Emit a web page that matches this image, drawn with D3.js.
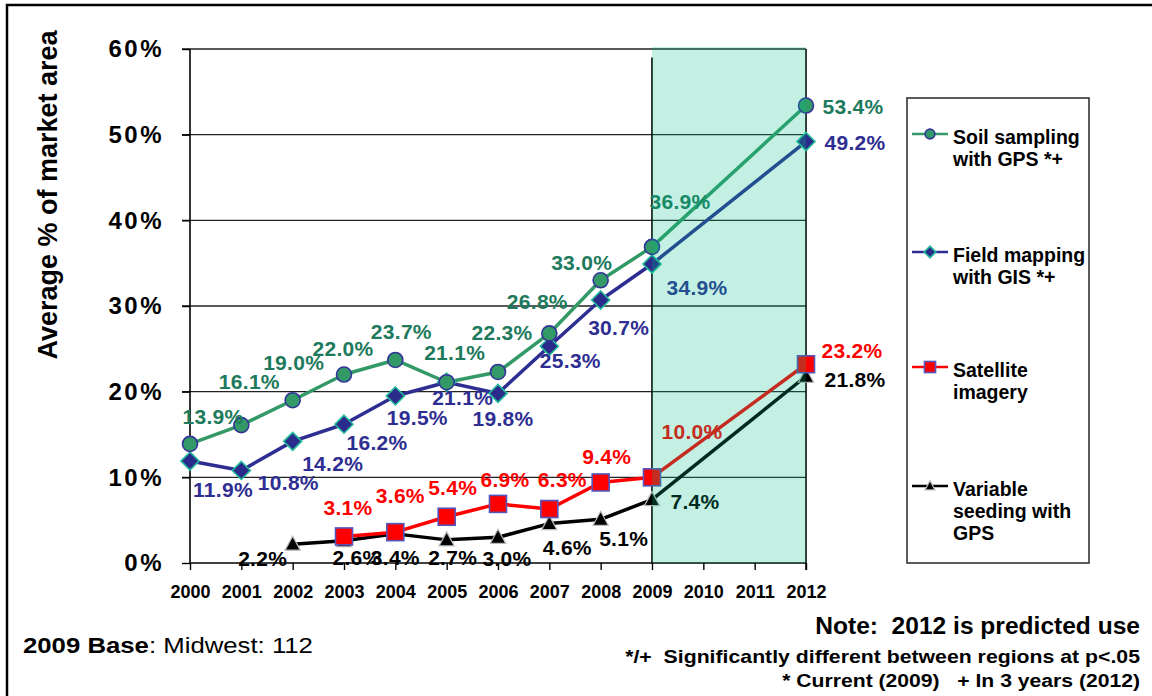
<!DOCTYPE html>
<html>
<head>
<meta charset="utf-8">
<script src="https://cdn.jsdelivr.net/npm/d3@7"></script>
<style>
  html, body { margin: 0; padding: 0; background: #fff; }
  svg { display: block; font-family: "Liberation Sans", Arial, sans-serif; }
</style>
</head>
<body>
<svg id="chart" width="1152" height="696"></svg>
<script>
// ---------------- data ----------------
const years = [2000, 2001, 2002, 2003, 2004, 2005, 2006, 2007, 2008, 2009, 2010, 2011, 2012];
const yTicks = [0, 10, 20, 30, 40, 50, 60];

const soilYears  = [2000, 2001, 2002, 2003, 2004, 2005, 2006, 2007, 2008, 2009, 2012];
const soilValues = [13.9, 16.1, 19.0, 22.0, 23.7, 21.1, 22.3, 26.8, 33.0, 36.9, 53.4];

const fieldYears  = [2000, 2001, 2002, 2003, 2004, 2005, 2006, 2007, 2008, 2009, 2012];
const fieldValues = [11.9, 10.8, 14.2, 16.2, 19.5, 21.1, 19.8, 25.3, 30.7, 34.9, 49.2];

const satYears  = [2003, 2004, 2005, 2006, 2007, 2008, 2009, 2012];
const satValues = [3.1, 3.6, 5.4, 6.9, 6.3, 9.4, 10.0, 23.2];

const seedYears  = [2002, 2003, 2004, 2005, 2006, 2007, 2008, 2009, 2012];
const seedValues = [2.2, 2.6, 3.4, 2.7, 3.0, 4.6, 5.1, 7.4, 21.8];

const seriesNames = [["Soil sampling", "with GPS *+"], ["Field mapping", "with GIS *+"], ["Satellite", "imagery"], ["Variable", "seeding with", "GPS"]];

// label placement (pixel offsets from the point), layout only
const soilLabelOff  = [[23,-27],[8,-43],[1,-38],[-1,-26],[6,-28],[8,-30],[4,-39],[-12,-32],[-19,-18],[28,-45],[47,1]];
const fieldLabelOff = [[33,29],[47,12],[40,22],[33,18],[22,22],[16,15],[5,25],[21,14],[18,28],[45,24],[49,1]];
const satLabelOff   = [[4,-29],[5,-37],[6,-29],[7,-24],[13,-29],[6,-26],[40,-46],[46,-14]];
const seedLabelOff  = [[-30,14],[13,17],[0,24],[6,18],[9,21],[18,24],[23,19],[43,2],[49,3]];

// ---------------- layout ----------------
const svg = d3.select("#chart");
const x = d3.scaleLinear().domain([2000, 2012]).range([190, 806]);
const y = d3.scaleLinear().domain([0, 60]).range([563, 49]);

// helper: stretch a text horizontally to a target width, keeping its anchor
function fitWidth(sel, target) {
  const node = sel.node();
  const w = node.getComputedTextLength();
  const ax = +sel.attr("x"), ay = +sel.attr("y");
  const anchor = sel.attr("text-anchor") || "start";
  const sx = target / w;
  sel.attr("x", 0).attr("y", 0).attr("transform", `translate(${ax},${ay}) scale(${sx},1)`);
  sel.selectAll("tspan").each(function () { if (this.hasAttribute("x")) this.setAttribute("x", 0); });
}

// outer frame
svg.append("rect").attr("x", 7).attr("y", 5).attr("width", 1160).attr("height", 710)
  .attr("fill", "none").attr("stroke", "#000").attr("stroke-width", 2.5);

// gridlines
svg.append("g").selectAll("line").data(yTicks.filter(d => d > 0)).join("line")
  .attr("x1", 182).attr("x2", x(2012)).attr("y1", d => y(d)).attr("y2", d => y(d))
  .attr("stroke", "#222").attr("stroke-width", 1.4);

// y axis
const yAxis = d3.axisLeft(y).tickValues(yTicks).tickFormat(d => d + "%").tickSize(8).tickPadding(18);
const gy = svg.append("g").attr("transform", `translate(${x(2000)},0)`).call(yAxis);
gy.select(".domain").attr("stroke", "#000").attr("stroke-width", 1.6).attr("d", `M0,${y(60)}V${y(0)}`);
gy.selectAll(".tick line").attr("stroke", "#000").attr("stroke-width", 1.4);
gy.selectAll(".tick text").attr("font-size", 24).attr("font-weight", "bold").attr("fill", "#000")
  .attr("letter-spacing", 2.5).attr("font-family", "Liberation Sans, Arial, sans-serif");

// x axis
const xAxis = d3.axisBottom(x).tickValues(years).tickFormat(d3.format("d")).tickSize(7).tickPadding(15);
const gx = svg.append("g").attr("transform", `translate(0,${y(0)})`).call(xAxis);
gx.select(".domain").attr("stroke", "#000").attr("stroke-width", 1.6).attr("d", `M${x(2000)},0H${x(2012)}`);
gx.selectAll(".tick line").attr("stroke", "#000").attr("stroke-width", 1.4);
gx.selectAll(".tick text").attr("font-size", 18).attr("font-weight", "bold").attr("fill", "#000")
  .attr("font-family", "Liberation Sans, Arial, sans-serif");

// 2009 divider and right border
svg.append("line").attr("x1", x(2009)).attr("x2", x(2009)).attr("y1", y(59)).attr("y2", y(0))
  .attr("stroke", "#000").attr("stroke-width", 1.6);
svg.append("line").attr("x1", x(2012)).attr("x2", x(2012)).attr("y1", y(60)).attr("y2", y(0) + 7)
  .attr("stroke", "#000").attr("stroke-width", 1.6);

// y axis title
svg.append("text").attr("transform", `translate(57,${(y(0)+y(60))/2 - 111}) rotate(-90)`)
  .attr("text-anchor", "middle").attr("font-size", 27).attr("font-weight", "bold").attr("fill", "#000")
  .text("Average % of market area");

// ---------------- series ----------------
const series = [
  { yrs: soilYears,  vals: soilValues,  off: soilLabelOff,  line: "#339966", lab: "#1E7A5C", marker: "circle" },
  { yrs: fieldYears, vals: fieldValues, off: fieldLabelOff, line: "#2E2E92", lab: "#2E2E92", marker: "diamond" },
  { yrs: satYears,   vals: satValues,   off: satLabelOff,   line: "#FF0000", lab: "#FF0000", marker: "square" },
  { yrs: seedYears,  vals: seedValues,  off: seedLabelOff,  line: "#000000", lab: "#000000", marker: "triangle" }
];

function drawMarker(g, type, cx, cy, scale) {
  const s = scale || 1;
  if (type === "circle") {
    g.append("circle").attr("cx", cx).attr("cy", cy).attr("r", 7.5 * s)
      .attr("fill", "#339966").attr("stroke", "#333399").attr("stroke-width", 1.6);
  } else if (type === "diamond") {
    const h = 9 * s;
    g.append("path").attr("d", `M${cx},${cy-h}L${cx+h},${cy}L${cx},${cy+h}L${cx-h},${cy}Z`)
      .attr("fill", "#2B2B8C").attr("stroke", "#22BB99").attr("stroke-width", 1.6);
  } else if (type === "square") {
    const h = 8.5 * s;
    g.append("rect").attr("x", cx - h).attr("y", cy - h).attr("width", 2*h).attr("height", 2*h)
      .attr("fill", "#FF0000").attr("stroke", "#5555BB").attr("stroke-width", 1.6);
  } else {
    const h = 8 * s;
    g.append("path").attr("d", `M${cx},${cy-h}L${cx+h*0.95},${cy+h*0.75}L${cx-h*0.95},${cy+h*0.75}Z`)
      .attr("fill", "#000").attr("stroke", "#bbb").attr("stroke-width", 1.2);
  }
}

const lineGen = d3.line().x(d => x(d[0])).y(d => y(d[1]));
const gLines = svg.append("g");
const gMarks = svg.append("g");
const gLabels = svg.append("g");

series.slice().reverse().forEach(s => {
  const pts = s.yrs.map((yr, i) => [yr, s.vals[i]]);
  gLines.append("path").datum(pts).attr("d", lineGen)
    .attr("fill", "none").attr("stroke", s.line).attr("stroke-width", 3.5).attr("stroke-linejoin", "round");
});
series.slice().reverse().forEach(s => {
  s.yrs.forEach((yr, i) => drawMarker(gMarks, s.marker, x(yr), y(s.vals[i])));
});
series.forEach(s => {
  gLabels.selectAll(null).data(s.yrs.map((yr, i) => ({ yr, v: s.vals[i], o: s.off[i] }))).join("text")
    .attr("x", d => x(d.yr) + d.o[0]).attr("y", d => y(d.v) + d.o[1]).attr("dy", "0.35em")
    .attr("text-anchor", "middle").attr("font-size", 21).attr("font-weight", "bold").attr("letter-spacing", 0.3)
    .attr("fill", s.lab).text(d => d.v.toFixed(1) + "%");
});

// forecast shading (drawn over everything in 2009-2012)
svg.append("rect").attr("x", x(2009)).attr("y", y(60) - 2).attr("width", x(2012) - x(2009)).attr("height", y(0) - y(60) + 2)
  .attr("fill", "rgb(0,190,140)").attr("fill-opacity", 0.23);

// ---------------- legend ----------------
const lg = svg.append("g");
lg.append("rect").attr("x", 907).attr("y", 98).attr("width", 182).attr("height", 465)
  .attr("fill", "#fff").attr("stroke", "#333").attr("stroke-width", 1.6);
const legendMarkY = [134, 252, 367, 486];
series.forEach((s, i) => {
  const my = legendMarkY[i];
  lg.append("line").attr("x1", 912).attr("x2", 948).attr("y1", my).attr("y2", my)
    .attr("stroke", s.line).attr("stroke-width", 2.5);
  drawMarker(lg, s.marker, 930, my, 0.65);
  const t = lg.append("text").attr("x", 953).attr("y", my + 10).attr("font-size", 19.5).attr("font-weight", "bold").attr("fill", "#000");
  seriesNames[i].forEach((ln, j) => t.append("tspan").attr("x", 953).attr("dy", j === 0 ? 0 : 22).text(ln));
});

// ---------------- notes ----------------
const baseT = svg.append("text").attr("x", 23).attr("y", 653).attr("font-size", 22).attr("fill", "#000");
baseT.append("tspan").attr("font-weight", "bold").text("2009 Base");
baseT.append("tspan").text(": Midwest: 112");
fitWidth(baseT, 290);

const n1 = svg.append("text").attr("x", 1140).attr("y", 634).attr("text-anchor", "end").attr("font-size", 23).attr("font-weight", "bold")
  .attr("xml:space", "preserve").text("Note:  2012 is predicted use");
fitWidth(n1, 325);
const n2 = svg.append("text").attr("x", 1140).attr("y", 663).attr("text-anchor", "end").attr("font-size", 18).attr("font-weight", "bold")
  .attr("xml:space", "preserve").text("*/+  Significantly different between regions at p<.05");
fitWidth(n2, 515);
const n3 = svg.append("text").attr("x", 1140).attr("y", 687).attr("text-anchor", "end").attr("font-size", 18).attr("font-weight", "bold")
  .attr("xml:space", "preserve").text("* Current (2009)   + In 3 years (2012)");
fitWidth(n3, 358);
</script>
</body>
</html>
